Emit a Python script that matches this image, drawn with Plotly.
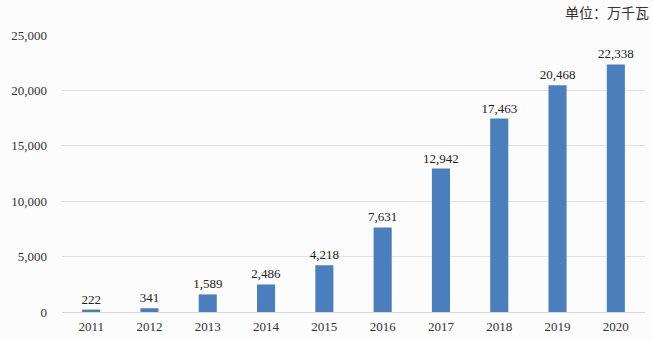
import plotly.graph_objects as go

years = ["2011", "2012", "2013", "2014", "2015", "2016", "2017", "2018", "2019", "2020"]
capacity = [222, 341, 1589, 2486, 4218, 7631, 12942, 17463, 20468, 22338]
y_ticks = [0, 5000, 10000, 15000, 20000, 25000]
unit_label = "单位：万千瓦"

serif = "Liberation Serif, Times New Roman, serif"

fig = go.Figure(
    go.Bar(
        x=years,
        y=capacity,
        marker=dict(color="#4a7ebd", line=dict(width=0)),
        text=[f"{v:,}" for v in capacity],
        textposition="outside",
        constraintext="none",
        cliponaxis=False,
        textangle=0,
        textfont=dict(family=serif, size=13, color="#222222"),
        outsidetextfont=dict(family=serif, size=13, color="#222222"),
    )
)

fig.update_layout(
    width=653,
    height=341,
    margin=dict(l=62, r=8, t=35, b=29, autoexpand=False),
    paper_bgcolor="#fdfcfd",
    plot_bgcolor="#fdfcfd",
    bargap=0.69,
    showlegend=False,
    font=dict(family=serif, size=13, color="#333333"),
    xaxis=dict(
        type="category",
        showgrid=False,
        showline=True,
        linecolor="#d6d6d6",
        linewidth=1,
        ticks="",
        ticklabelstandoff=2,
        tickfont=dict(family=serif, size=13, color="#333333"),
    ),
    yaxis=dict(
        range=[0, 25000],
        tickvals=y_ticks,
        tickformat=",",
        showgrid=True,
        gridcolor="#e4e4e4",
        gridwidth=1,
        zeroline=False,
        showline=False,
        ticks="",
        ticklabelstandoff=14,
        tickfont=dict(family=serif, size=13, color="#333333"),
    ),
    annotations=[
        dict(
            text=unit_label,
            xref="paper", yref="paper",
            x=1.0, y=1.0, yshift=23, xshift=6,
            xanchor="right", yanchor="middle",
            showarrow=False,
            font=dict(family="Noto Sans CJK SC", size=14, color="#333333"),
        )
    ],
)

fig.write_html("out.html")
